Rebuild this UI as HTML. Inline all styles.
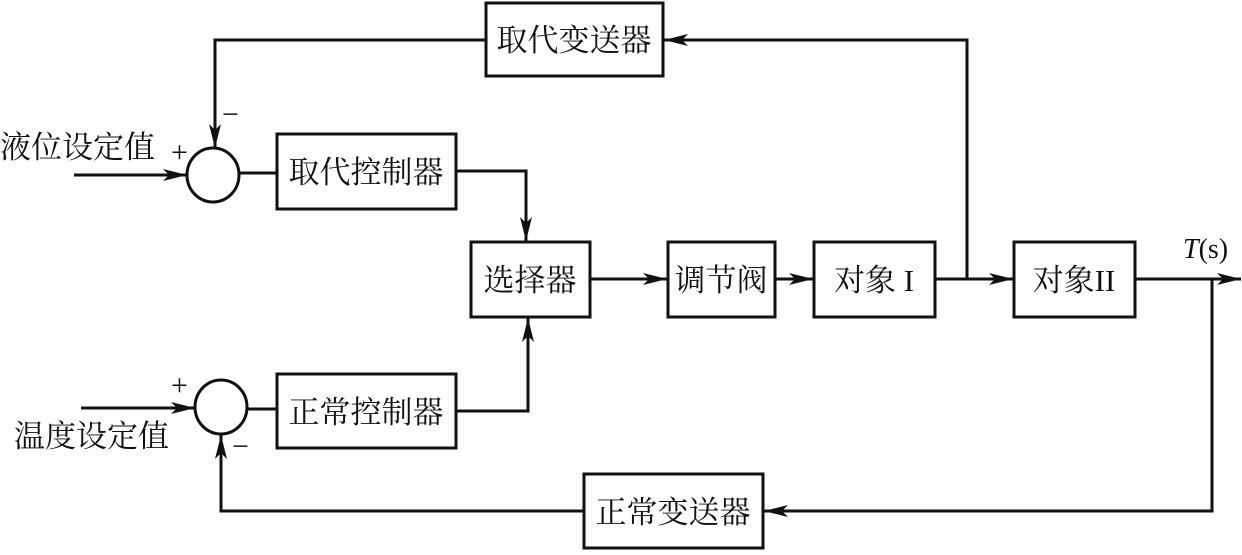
<!DOCTYPE html>
<html><head><meta charset="utf-8"><style>
html,body{margin:0;padding:0;background:#fff}
svg text{font-family:"Liberation Serif","Noto Serif CJK SC",serif;font-size:31px;fill:#111}
</style></head><body>
<svg width="1242" height="550" viewBox="0 0 1242 550" xmlns="http://www.w3.org/2000/svg">
<defs>
<marker id="b" markerWidth="24" markerHeight="12" refX="24" refY="6" orient="auto" markerUnits="userSpaceOnUse" viewBox="0 0 24 12">
<path d="M0,0 L24,6 L0,12 L6,6 Z" fill="#111"/>
</marker>
</defs>
<g fill="none" stroke="#111" stroke-width="3">
<rect x="486" y="3" width="177" height="73"/>
<rect x="277" y="134" width="179" height="75"/>
<rect x="471" y="242" width="119" height="75"/>
<rect x="668" y="242" width="107" height="75"/>
<rect x="814" y="242" width="121" height="75"/>
<rect x="1014" y="242" width="121" height="75"/>
<rect x="277" y="374" width="179" height="74"/>
<rect x="584" y="474" width="179" height="74"/>
<ellipse cx="213" cy="175" rx="26" ry="27"/>
<ellipse cx="221" cy="407" rx="26" ry="27"/>
<line x1="74" y1="175" x2="187" y2="175" marker-end="url(#b)"/>
<line x1="239" y1="173" x2="277" y2="173"/>
<polyline points="486,40 215,40 215,148" marker-end="url(#b)"/>
<polyline points="456,171 526,171 526,241" marker-end="url(#b)"/>
<line x1="81" y1="408" x2="195" y2="408" marker-end="url(#b)"/>
<line x1="247" y1="409" x2="277" y2="409"/>
<polyline points="456,411 528,411 528,318" marker-end="url(#b)"/>
<polyline points="584,511 221,511 221,435" marker-end="url(#b)"/>
<line x1="590" y1="279" x2="667" y2="279" marker-end="url(#b)"/>
<line x1="775" y1="279" x2="813" y2="279" marker-end="url(#b)"/>
<line x1="935" y1="279" x2="1013" y2="279" marker-end="url(#b)"/>
<polyline points="967,279 967,40 664,40" marker-end="url(#b)"/>
<line x1="1135" y1="279" x2="1241" y2="279" marker-end="url(#b)"/>
<polyline points="1212,279 1212,511 764,511" marker-end="url(#b)"/>
</g>
<g text-anchor="middle">
<text x="574" y="51">取代变送器</text>
<text x="366" y="183">取代控制器</text>
<text x="530" y="291">选择器</text>
<text x="721" y="291">调节阀</text>
<text x="874" y="291">对象 I</text>
<text x="1074" y="291">对象II</text>
<text x="366" y="423">正常控制器</text>
<text x="673" y="523">正常变送器</text>
</g>
<text x="0" y="158">液位设定值</text>
<text x="14" y="447">温度设定值</text>
<text x="171" y="162" style="font-size:30px">+</text>
<text x="222" y="124" style="font-size:30px">−</text>
<text x="171" y="395" style="font-size:30px">+</text>
<text x="232" y="456" style="font-size:30px">−</text>
<text x="1183" y="258" style="font-size:28px"><tspan font-style="italic">T</tspan>(s)</text>
</svg>
</body></html>
